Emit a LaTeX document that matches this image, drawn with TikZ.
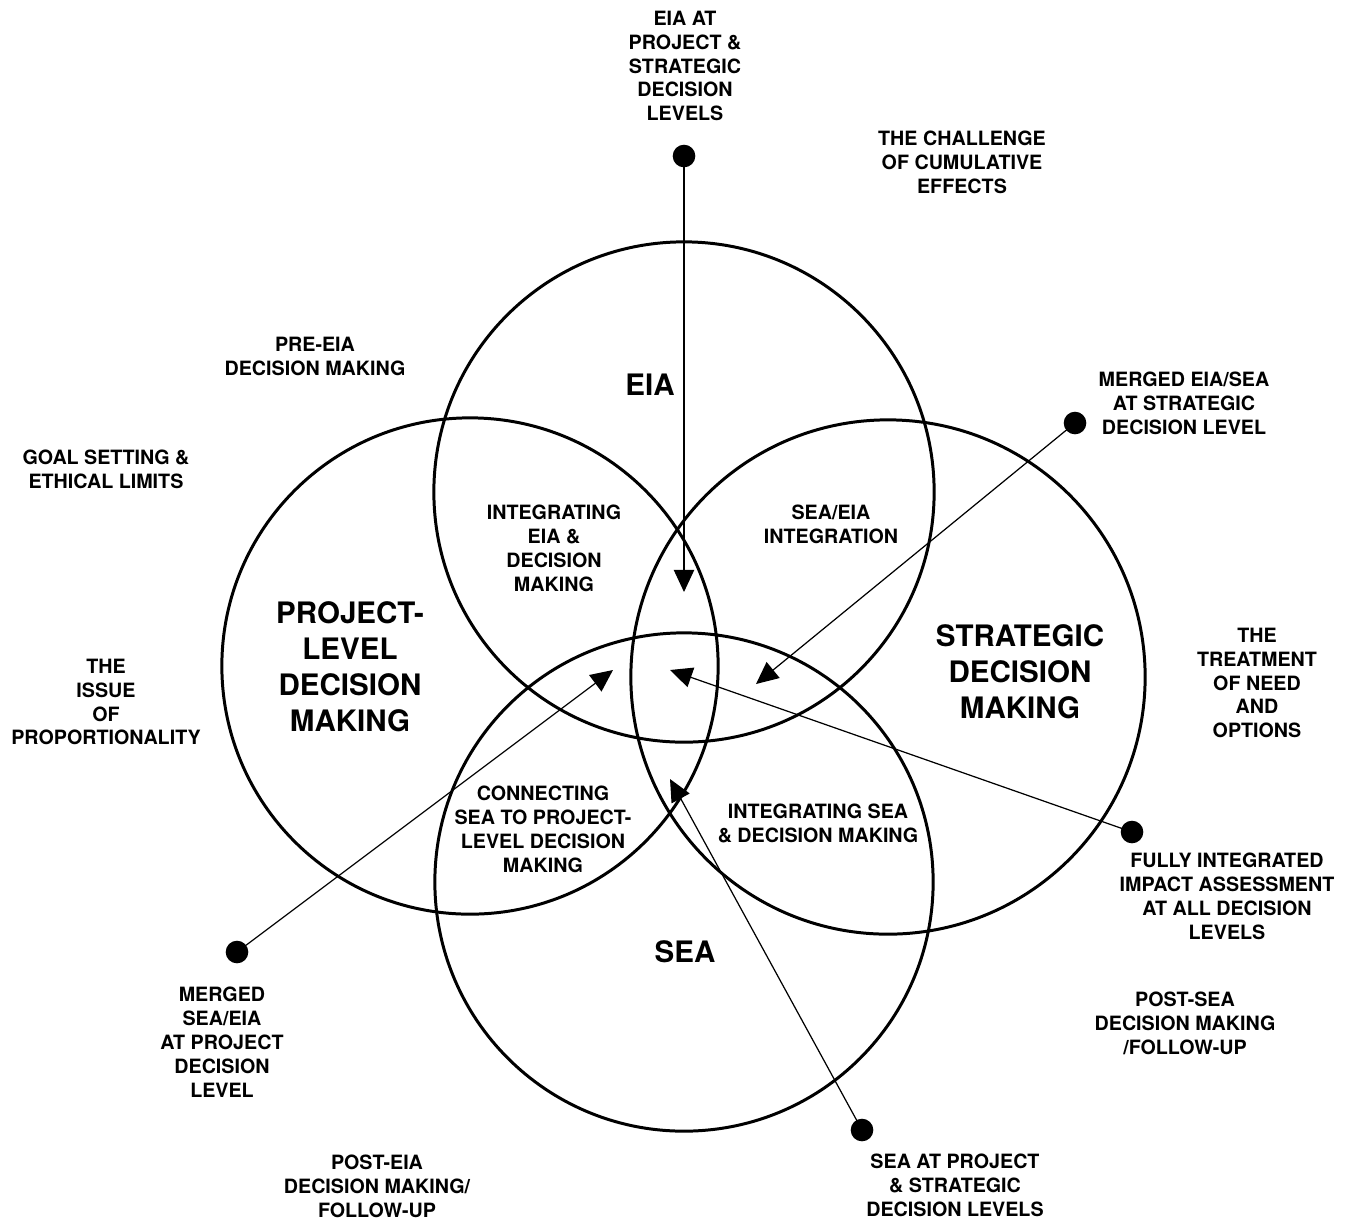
\documentclass[tikz,border=0pt]{standalone}
\usepackage{fontspec}
\setmainfont{TeX Gyre Heros}
\usetikzlibrary{arrows.meta}
\tikzset{
  ring/.style={draw, circle, line width=0.85pt, inner sep=0pt},
  small/.style={font=\bfseries\fontsize{5.6}{6.8}\selectfont, align=center, inner sep=0pt},
  big/.style={font=\bfseries\fontsize{8.4}{10.24}\selectfont, align=center, inner sep=0pt},
  dot/.style={circle, fill=black, inner sep=0pt, minimum size=0.226cm},
  conn/.style={line width=0.35pt, -{Triangle[length=6.3pt,width=5.8pt]}},
}
\begin{document}
\begin{tikzpicture}[x=0.01cm, y=-0.01cm]
\useasboundingbox (0,0) rectangle (1351,1220);
% circles
\node[ring, minimum size=5cm] (eia) at (684,492) {};
\node[ring, minimum size=4.96cm] (proj) at (470,666) {};
\node[ring, minimum size=5.14cm] (strat) at (888,677) {};
\node[ring, minimum size=4.98cm] (sea) at (684,882) {};
% big labels
\node[big] (leia) at (650,385) {EIA};
\node[big] (lproj) at (350,667) {PROJECT-\\LEVEL\\DECISION\\MAKING};
\node[big] (lstrat) at (1020,672) {STRATEGIC\\DECISION\\MAKING};
\node[big] (lsea) at (685,952) {SEA};
% intersection labels
\node[small] (ieia) at (554,548) {INTEGRATING\\EIA \&\\DECISION\\MAKING};
\node[small] (iseaeia) at (831,524) {SEA/EIA\\INTEGRATION};
\node[small] (iconn) at (543,829) {CONNECTING\\SEA TO PROJECT-\\LEVEL DECISION\\MAKING};
\node[small] (iintsea) at (818,823) {INTEGRATING SEA\\\& DECISION MAKING};
% outer labels
\node[small] (ocum) at (962,162) {THE CHALLENGE\\OF CUMULATIVE\\EFFECTS};
\node[small] (opre) at (315,356) {PRE-EIA\\DECISION MAKING};
\node[small] (ogoal) at (106,469) {GOAL SETTING \&\\ETHICAL LIMITS};
\node[small] (oprop) at (106,702) {THE\\ISSUE\\OF\\PROPORTIONALITY};
\node[small] (oneed) at (1257,683) {THE\\TREATMENT\\OF NEED\\AND\\OPTIONS};
\node[small] (opostsea) at (1185,1023) {POST-SEA\\DECISION MAKING\\/FOLLOW-UP};
\node[small] (oposteia) at (377,1186) {POST-EIA\\DECISION MAKING/\\FOLLOW-UP};
% dots with labels
\node[dot] (d1) at (684,156) {};
\node[small] (l1) at (685,66) {EIA AT\\PROJECT \&\\STRATEGIC\\DECISION\\LEVELS};
\node[dot] (d2) at (1075,423) {};
\node[small] (l2) at (1184,403) {MERGED EIA/SEA\\AT STRATEGIC\\DECISION LEVEL};
\node[dot] (d3) at (1132,832) {};
\node[small] (l3) at (1227,896) {FULLY INTEGRATED\\IMPACT ASSESSMENT\\AT ALL DECISION\\LEVELS};
\node[dot] (d4) at (862,1130) {};
\node[small] (l4) at (955,1185) {SEA AT PROJECT\\\& STRATEGIC\\DECISION LEVELS};
\node[dot] (d5) at (237,952) {};
\node[small] (l5) at (222,1042) {MERGED\\SEA/EIA\\AT PROJECT\\DECISION\\LEVEL};
% arrow tips
\coordinate (t1) at (684,592);
\coordinate (t2) at (756,684);
\coordinate (t3) at (670,670);
\coordinate (t4) at (670,779);
\coordinate (t5) at (613,670);
\draw[conn] (d1.center) -- (t1);
\draw[conn] (d2.center) -- (t2);
\draw[conn] (d3.center) -- (t3);
\draw[conn] (d4.center) -- (t4);
\draw[conn] (d5.center) -- (t5);
\end{tikzpicture}
\end{document}
